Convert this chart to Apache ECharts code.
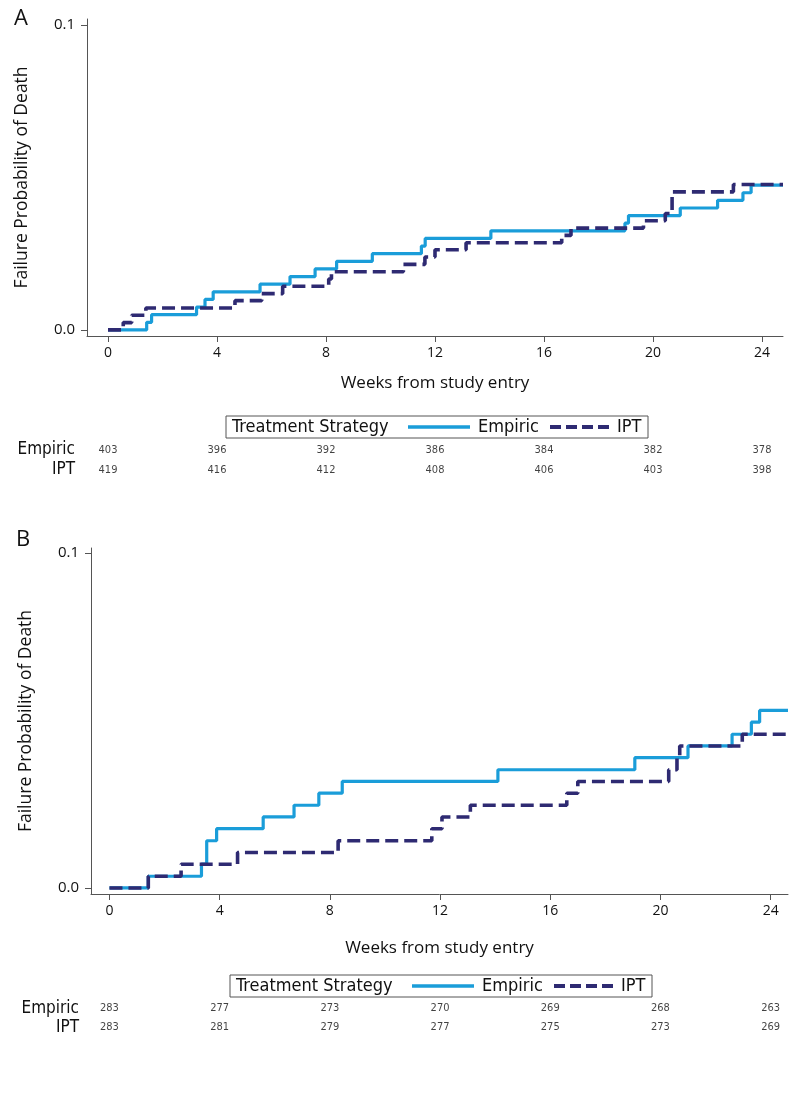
<!DOCTYPE html>
<html>
<head>
<meta charset="utf-8">
<script src="https://cdn.jsdelivr.net/npm/echarts@6/dist/echarts.min.js"></script>
<style>html,body{margin:0;padding:0;background:#fff}#c{width:800px;height:1093px}</style>
</head>
<body>
<div id="c"></div>
<script>
// ---- Data ----
const xTicks = [0, 4, 8, 12, 16, 20, 24];
const yTicks = [0, 0.1];
const seriesNames = ['Empiric', 'IPT'];

// Panel A (Kaplan-Meier failure curves: week, cumulative probability)
const A_empiric_t = [0, 1.42, 1.6, 3.25, 3.56, 3.86, 5.58, 6.68, 7.6, 8.39, 9.7, 11.5, 11.64, 14.05, 18.97, 19.1, 21.0, 22.37, 23.3, 23.6, 24.77];
const A_empiric_v = [0, 0.0025, 0.005, 0.0075, 0.01, 0.0125, 0.015, 0.0175, 0.02, 0.0225, 0.025, 0.0275, 0.03, 0.0325, 0.035, 0.0375, 0.04, 0.0425, 0.045, 0.0475, 0.0475];
const A_ipt_t = [0, 0.56, 0.87, 1.39, 4.66, 5.64, 6.41, 8.1, 8.2, 10.84, 11.63, 12.0, 13.14, 16.65, 16.99, 19.65, 20.45, 20.7, 22.95, 24.77];
const A_ipt_v = [0, 0.0024, 0.0048, 0.0072, 0.0096, 0.0119, 0.0143, 0.0167, 0.0191, 0.0215, 0.0239, 0.0263, 0.0286, 0.031, 0.0334, 0.0358, 0.0382, 0.0453, 0.0477, 0.0477];

// Panel B
const B_empiric_t = [0, 1.41, 3.34, 3.53, 3.89, 5.58, 6.7, 7.6, 8.45, 14.1, 19.07, 21.0, 22.6, 23.3, 23.6, 24.63];
const B_empiric_v = [0, 0.0035, 0.0071, 0.0141, 0.0177, 0.0212, 0.0247, 0.0283, 0.0318, 0.0353, 0.0389, 0.0424, 0.0459, 0.0495, 0.053, 0.053];
const B_ipt_t = [0, 1.41, 2.6, 4.65, 8.3, 11.7, 12.07, 13.1, 16.6, 17.0, 20.3, 20.6, 20.7, 22.97, 24.63];
const B_ipt_v = [0, 0.0035, 0.0071, 0.0106, 0.0141, 0.0177, 0.0212, 0.0247, 0.0283, 0.0318, 0.0353, 0.0389, 0.0424, 0.0459, 0.0459];

// Numbers at risk
const riskWeeks = [0, 4, 8, 12, 16, 20, 24];
const A_risk_empiric = [403, 396, 392, 386, 384, 382, 378];
const A_risk_ipt = [419, 416, 412, 408, 406, 403, 398];
const B_risk_empiric = [283, 277, 273, 270, 269, 268, 263];
const B_risk_ipt = [283, 281, 279, 277, 275, 273, 269];

// ---- Styles ----
const C_EMP = '#1a9dd9';
const C_IPT = '#2e2a72';
const AX = '#555';
const FONT = "'Open Sans', 'Noto Sans', sans-serif";
const NARROW = "'Liberation Sans Narrow', 'DejaVu Sans Condensed', 'Liberation Sans', sans-serif";
const IPT_DASH = [13, 6];

const zip = (t, v) => t.map((x, i) => [x, v[i]]);
const riskData = (vals, row) => riskWeeks.map((w, i) => [w, row, vals[i]]);

function mainX(gi, min, max, gap) {
  return {
    type: 'value', gridIndex: gi, min: min, max: max,
    name: 'Weeks from study entry', nameLocation: 'middle', nameGap: gap,
    nameTextStyle: { fontFamily: FONT, fontSize: 17, color: '#111' },
    axisLine: { show: true, onZero: false, lineStyle: { color: AX, width: 1 } },
    axisTick: { show: true, length: 6, customValues: xTicks, lineStyle: { color: AX } },
    axisLabel: { customValues: xTicks, margin: 10, fontFamily: FONT, fontSize: 14, color: '#111' },
    splitLine: { show: false }
  };
}
function mainY(gi, min, max) {
  return {
    type: 'value', gridIndex: gi, min: min, max: max,
    name: 'Failure Probability of Death', nameLocation: 'middle', nameGap: 56,
    nameTextStyle: { fontFamily: FONT, fontSize: 17.5, color: '#111' },
    axisLine: { show: true, onZero: false, lineStyle: { color: AX, width: 1 } },
    axisTick: { show: true, length: 6, customValues: yTicks, lineStyle: { color: AX } },
    axisLabel: { customValues: yTicks, margin: 12, fontFamily: FONT, fontSize: 15, color: '#111',
      formatter: v => v.toFixed(1) },
    splitLine: { show: false }
  };
}
function riskX(gi, min, max) {
  return { type: 'value', gridIndex: gi, min: min, max: max, show: false };
}
function riskY(gi) {
  return {
    type: 'category', gridIndex: gi, data: seriesNames, inverse: true,
    axisLine: { show: false }, axisTick: { show: false },
    axisLabel: { interval: 0, margin: 12, fontFamily: NARROW, fontSize: 17, color: '#111' }
  };
}
function km(name, data, xi, yi, color, dashed) {
  return {
    name: name, type: 'line', xAxisIndex: xi, yAxisIndex: yi, data: data,
    step: 'end', symbol: 'none', silent: true, animation: false,
    lineStyle: { color: color, width: dashed ? 3.6 : 3.2, type: dashed ? IPT_DASH : 'solid', cap: 'butt' },
    itemStyle: { color: color }
  };
}
function risk(name, data, xi, yi) {
  return {
    name: name + ' at risk', type: 'scatter', xAxisIndex: xi, yAxisIndex: yi, data: data,
    symbolSize: 1, itemStyle: { color: 'rgba(0,0,0,0)' }, silent: true, animation: false,
    label: { show: true, position: 'inside', formatter: p => p.value[2],
      fontFamily: NARROW, fontSize: 11, color: '#111' }
  };
}
// Legend drawn as a framed key
function legendBox(x, y) {
  const cy = y + 11;
  const font = "18px " + NARROW;
  return [
    { type: 'rect', shape: { x: x, y: y, width: 422, height: 22 },
      style: { fill: '#fff', stroke: '#555', lineWidth: 1 }, z: 1 },
    { type: 'text', x: x + 6, y: cy, z: 2,
      style: { text: 'Treatment Strategy', font: font, fill: '#111', textVerticalAlign: 'middle', verticalAlign: 'middle' } },
    { type: 'line', shape: { x1: x + 182, y1: cy, x2: x + 244, y2: cy }, z: 2,
      style: { stroke: C_EMP, lineWidth: 3.5 } },
    { type: 'text', x: x + 252, y: cy, z: 2,
      style: { text: seriesNames[0], font: font, fill: '#111', verticalAlign: 'middle', textVerticalAlign: 'middle' } },
    { type: 'line', shape: { x1: x + 324, y1: cy, x2: x + 384, y2: cy }, z: 2,
      style: { stroke: C_IPT, lineWidth: 3.8, lineDash: [11, 5] } },
    { type: 'text', x: x + 391, y: cy, z: 2,
      style: { text: seriesNames[1], font: font, fill: '#111', verticalAlign: 'middle', textVerticalAlign: 'middle' } }
  ];
}

const option = {
  animation: false,
  backgroundColor: '#fff',
  title: [
    { text: 'A', left: 9, top: 3, textStyle: { fontFamily: FONT, fontSize: 22, fontWeight: 'normal', color: '#111' } },
    { text: 'B', left: 11, top: 524, textStyle: { fontFamily: FONT, fontSize: 22, fontWeight: 'normal', color: '#111' } }
  ],
  grid: [
    { left: 87, width: 696, top: 19, height: 317 },
    { left: 87, width: 696, top: 440, height: 40 },
    { left: 91, width: 697, top: 548, height: 346 },
    { left: 91, width: 697, top: 999, height: 38 }
  ],
  xAxis: [mainX(0, -0.77, 24.77, 39), riskX(1, -0.77, 24.77), mainX(2, -0.67, 24.63, 46), riskX(3, -0.67, 24.63)],
  yAxis: [mainY(0, -0.002, 0.102), riskY(1), mainY(2, -0.0018, 0.1015), riskY(3)],
  graphic: [].concat(legendBox(226, 416), legendBox(230, 975)),
  series: [
    km('Empiric', zip(A_empiric_t, A_empiric_v), 0, 0, C_EMP, false),
    km('IPT', zip(A_ipt_t, A_ipt_v), 0, 0, C_IPT, true),
    km('Empiric', zip(B_empiric_t, B_empiric_v), 2, 2, C_EMP, false),
    km('IPT', zip(B_ipt_t, B_ipt_v), 2, 2, C_IPT, true),
    risk('Empiric', riskData(A_risk_empiric, 'Empiric'), 1, 1),
    risk('IPT', riskData(A_risk_ipt, 'IPT'), 1, 1),
    risk('Empiric', riskData(B_risk_empiric, 'Empiric'), 3, 3),
    risk('IPT', riskData(B_risk_ipt, 'IPT'), 3, 3)
  ]
};
const chart = echarts.init(document.getElementById('c'), null, { renderer: 'canvas' });
chart.setOption(option);
</script>
</body>
</html>
